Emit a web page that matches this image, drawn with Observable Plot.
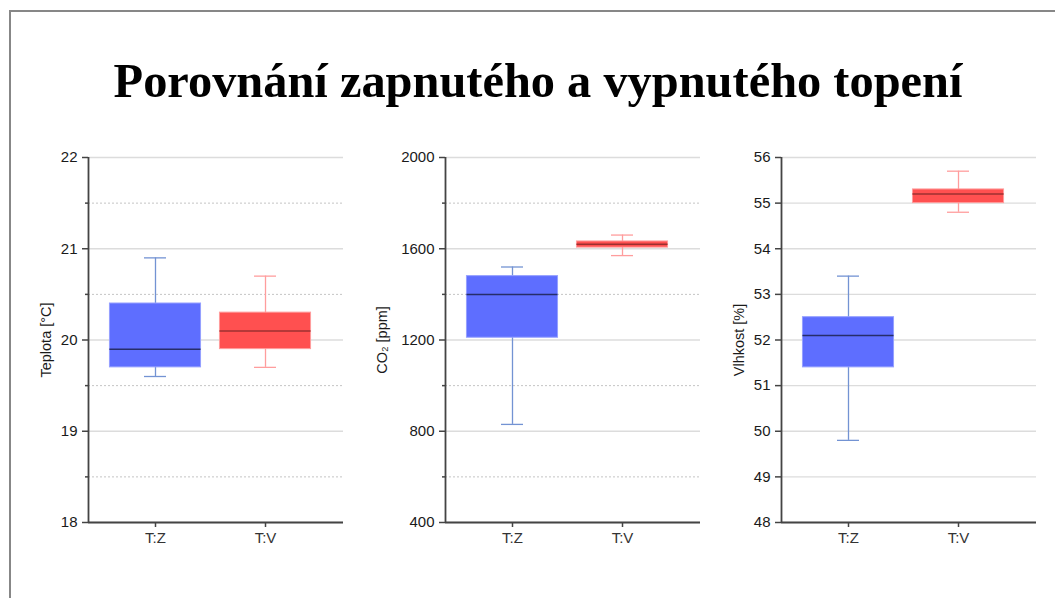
<!DOCTYPE html>
<html>
<head>
<meta charset="utf-8">
<script src="https://cdn.jsdelivr.net/npm/d3@7"></script>
<script src="https://cdn.jsdelivr.net/npm/@observablehq/plot@0.6"></script>
<style>
  html, body { margin: 0; padding: 0; background: #fff; overflow: hidden; }
  #root { position: relative; width: 1055px; height: 598px; overflow: hidden; }
  #frame { position: absolute; left: 9px; top: 10px; width: 1100px; height: 650px; border: 2px solid #878787; box-sizing: border-box; }
  #title { position: absolute; left: 0; width: 1076px; top: 57px; text-align: center;
    font: bold 48.4px/48px "Liberation Serif", "Times New Roman", serif; color: #000; white-space: nowrap; }
  .panel { position: absolute; top: 140px; }
  .panel svg { overflow: visible; }
</style>
</head>
<body>
<div id="root">
  <div id="frame"></div>
  <div id="title">Porovnání zapnutého a vypnutého topení</div>
  <div class="panel" id="p1" style="left:10px"></div>
  <div class="panel" id="p2" style="left:367px"></div>
  <div class="panel" id="p3" style="left:703px"></div>
</div>
<script>
// ---- data ----
const categories = ["T:Z", "T:V"];

const teplotaMin = [19.6, 19.7];
const teplotaQ1  = [19.7, 19.9];
const teplotaMed = [19.9, 20.1];
const teplotaQ3  = [20.4, 20.3];
const teplotaMax = [20.9, 20.7];

const co2Min = [830, 1570];
const co2Q1  = [1210, 1605];
const co2Med = [1400, 1620];
const co2Q3  = [1480, 1632];
const co2Max = [1520, 1660];

const vlhkostMin = [49.8, 54.8];
const vlhkostQ1  = [51.4, 55.0];
const vlhkostMed = [52.1, 55.2];
const vlhkostQ3  = [52.5, 55.3];
const vlhkostMax = [53.4, 55.7];

const teplotaTicks = [18, 19, 20, 21, 22];
const teplotaMinor = [18.5, 19.5, 20.5, 21.5];
const co2Ticks = [400, 800, 1200, 1600, 2000];
const co2Minor = [600, 1000, 1400, 1800];
const vlhkostTicks = [48, 49, 50, 51, 52, 53, 54, 55, 56];
const vlhkostMinor = [];

// ---- styles ----
const boxFill = ["#5e6eff", "#ff5050"];
const boxStroke = ["#95a0ff", "#ff9d9d"];
const whiskerColor = ["#7393d3", "#ff9d9d"];
const medianColor = ["#262d6a", "#9c3030"];
const fontFamily = '"Liberation Sans", Arial, sans-serif';

function panel(el, mins, q1s, meds, q3s, maxs, ticks, minors, label, labelOffset) {
  const rows = categories.map((c, i) => ({i, c, min: mins[i], q1: q1s[i], med: meds[i], q3: q3s[i], max: maxs[i]}));
  const caps = rows.flatMap(d => [{i: d.i, v: d.min}, {i: d.i, v: d.max}]);
  const xDom = [-0.609, 1.709];
  const yDom = [ticks[0], ticks[ticks.length - 1]];
  const hw = 0.414, cw = 0.1;
  const chart = Plot.plot({
    width: 340, height: 420,
    marginLeft: 78, marginRight: 7, marginTop: 17, marginBottom: 38,
    style: {fontFamily, fontSize: "15px", color: "#222", background: "transparent"},
    x: {type: "linear", domain: xDom},
    y: {type: "linear", domain: yDom},
    color: {type: "identity"},
    marks: [
      Plot.gridY(minors, {stroke: "#c4c4c4", strokeOpacity: 1, strokeDasharray: "2,2", strokeWidth: 1}),
      Plot.gridY(ticks, {stroke: "#dcdcdc", strokeOpacity: 1, strokeWidth: 1.3}),
      Plot.ruleX(rows, {x: "i", y1: "min", y2: "max", stroke: d => whiskerColor[d.i], strokeWidth: 1.3}),
      Plot.ruleY(caps, {y: "v", x1: d => d.i - cw, x2: d => d.i + cw, stroke: d => whiskerColor[d.i], strokeWidth: 1.3}),
      Plot.rect(rows, {x1: d => d.i - hw, x2: d => d.i + hw, y1: "q1", y2: "q3",
        fill: d => boxFill[d.i], stroke: d => boxStroke[d.i], strokeWidth: 1}),
      Plot.ruleY(rows, {y: "med", x1: d => d.i - hw, x2: d => d.i + hw, stroke: d => medianColor[d.i], strokeWidth: 1.5}),
      Plot.axisY(minors, {tickSize: 3, tickFormat: () => "", label: null, stroke: "#444", strokeWidth: 1.5}),
      Plot.axisY(ticks, {tickSize: 6, tickPadding: 5, tickFormat: d => String(d), stroke: "#444", strokeWidth: 1.5, fill: "#1a1a1a",
        label, labelAnchor: "center", labelArrow: false, labelOffset}),
      Plot.axisX([0, 1], {tickFormat: i => categories[i], tickSize: 5, tickPadding: 5,
        stroke: "#444", strokeWidth: 1.5, fill: "#333", label: null}),
      Plot.ruleX([xDom[0]], {stroke: "#444", strokeWidth: 1.8}),
      Plot.ruleY([yDom[0]], {stroke: "#444", strokeWidth: 1.8})
    ]
  });
  document.getElementById(el).appendChild(chart);
  return chart;
}

const c1 = panel("p1", teplotaMin, teplotaQ1, teplotaMed, teplotaQ3, teplotaMax, teplotaTicks, teplotaMinor, "Teplota [°C]", 48);
const c2 = panel("p2", co2Min, co2Q1, co2Med, co2Q3, co2Max, co2Ticks, co2Minor, "CO₂ [ppm]", 69);
const c3 = panel("p3", vlhkostMin, vlhkostQ1, vlhkostMed, vlhkostQ3, vlhkostMax, vlhkostTicks, vlhkostMinor, "Vlhkost [%]", 48);

// axis titles
[c1, c2, c3].forEach(c => {
  c.querySelectorAll('g[aria-label="y-axis label"]').forEach(g => {
    g.setAttribute("font-size", "14.5");
    g.style.fontSize = "14.5px";
    g.querySelectorAll("text").forEach(t => { t.style.fontSize = "14.5px"; });
  });
});
</script>
</body>
</html>
